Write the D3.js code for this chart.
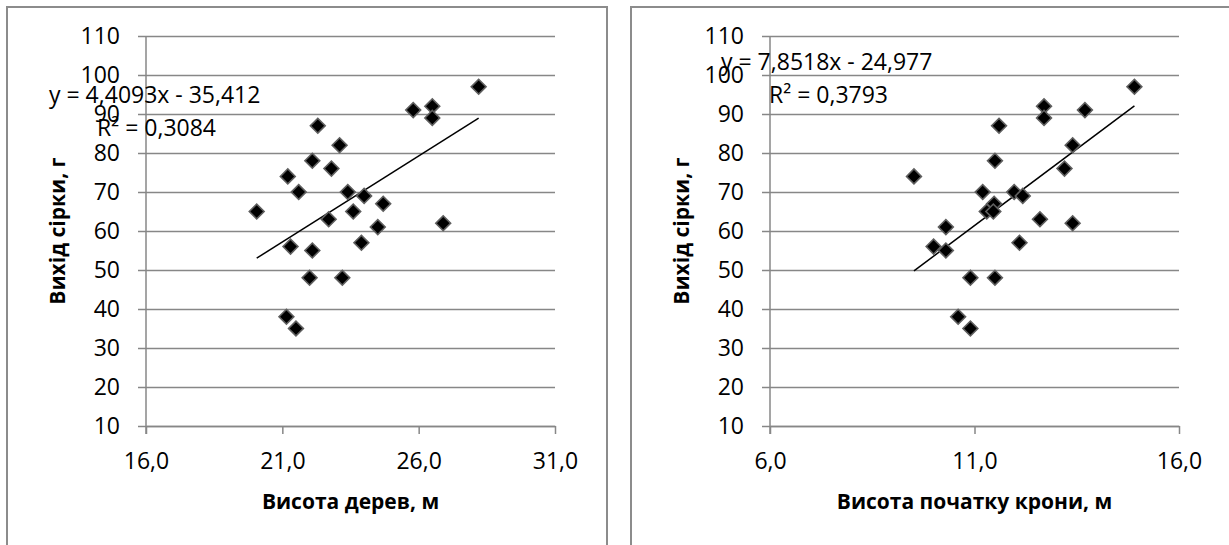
<!DOCTYPE html>
<html>
<head>
<meta charset="utf-8">
<script src="https://cdn.jsdelivr.net/npm/d3@7"></script>
<style>
  body { margin: 0; background: #fff; }
  svg text { font-family: "Open Sans", sans-serif; fill: #000; }
</style>
</head>
<body>
<div id="graph"></div>
<script>
// yield of sulphur, g (same trees on both charts)
var yieldA = [65, 74, 70, 56, 97, 91, 92, 89, 87, 82, 78, 76, 70, 69, 67, 65, 63, 61, 62, 57, 55, 48, 48, 35, 38];
// tree height, m
var treeHeight = [20.06, 21.2, 21.6, 21.3, 28.2, 25.8, 26.5, 26.5, 22.3, 23.1, 22.1, 22.8, 23.4, 24.0, 24.7, 23.6, 22.7, 24.5, 26.9, 23.9, 22.1, 22.0, 23.2, 21.5, 21.15];

// yield of sulphur, g, second chart
var yieldB = [74, 97, 92, 89, 91, 87, 82, 78, 76, 70, 70, 69, 67, 65, 65, 63, 62, 61, 57, 56, 55, 48, 48, 38, 35];
// crown base height, m
var crownHeight = [9.52, 14.91, 12.7, 12.7, 13.7, 11.6, 13.4, 11.5, 13.2, 11.2, 11.97, 12.18, 11.48, 11.3, 11.46, 12.6, 13.4, 10.3, 12.1, 10.0, 10.3, 10.9, 11.5, 10.6, 10.9];

var yTicks = [10, 20, 30, 40, 50, 60, 70, 80, 90, 100, 110];
var xTicksA = [16, 21, 26, 31];
var xTicksB = [6, 11, 16];

// trend line coefficients (slope, intercept) and R²
var trendA = [4.4093, -35.412], r2A = "0,3084";
var trendB = [7.8518, -24.977], r2B = "0,3793";

var svg = d3.select('#graph')
    .append('svg')
    .attr('width', 1229)
    .attr('height', 545);

function comma(v, digits) {
  return v.toFixed(digits).replace('.', ',');
}

function drawChart(opt) {
  // frame
  svg.append('rect')
    .attr('x', opt.frame[0]).attr('y', 7)
    .attr('width', opt.frame[1]).attr('height', 560)
    .attr('fill', 'none')
    .attr('stroke', '#8c8c8c')
    .attr('stroke-width', 2);

  var x = d3.scaleLinear().domain(opt.xDomain).range([opt.left, opt.right]);
  var y = d3.scaleLinear().domain([10, 110]).range([426, 36]);
  var w = opt.right - opt.left;

  // horizontal gridlines
  svg.append('g')
    .attr('transform', 'translate(' + opt.left + ',0)')
    .call(d3.axisLeft(y).tickValues(yTicks).tickSize(-w).tickFormat(''))
    .call(function(g) {
      g.select('.domain').remove();
      g.selectAll('line').attr('stroke', '#878787').attr('stroke-width', 1.5);
    });

  // y axis
  svg.append('g')
    .attr('transform', 'translate(' + opt.left + ',0)')
    .call(d3.axisLeft(y).tickValues(yTicks).tickSize(8).tickSizeOuter(0).tickPadding(18))
    .call(function(g) {
      g.select('.domain').attr('stroke', '#878787').attr('stroke-width', 1.5)
        .attr('d', 'M0,36V434');
      g.selectAll('line').attr('stroke', '#878787').attr('stroke-width', 1.5);
      g.selectAll('text').style('font-size', '23px').attr('fill', '#000');
    });

  // x axis
  svg.append('g')
    .attr('transform', 'translate(0,426)')
    .call(d3.axisBottom(x).tickValues(opt.xTicks).tickSize(8).tickSizeOuter(0).tickPadding(19)
      .tickFormat(function(d) { return comma(d, 1); }))
    .call(function(g) {
      g.select('.domain').attr('stroke', '#878787').attr('stroke-width', 1.5);
      g.selectAll('line').attr('stroke', '#878787').attr('stroke-width', 1.5);
      g.selectAll('text').style('font-size', '23px').attr('fill', '#000');
    });

  // trend line
  var xr = d3.extent(opt.xs);
  svg.append('line')
    .attr('x1', x(xr[0])).attr('y1', y(opt.trend[0] * xr[0] + opt.trend[1]))
    .attr('x2', x(xr[1])).attr('y2', y(opt.trend[0] * xr[1] + opt.trend[1]))
    .attr('stroke', '#000')
    .attr('stroke-width', 1.5);

  // markers
  var diamond = d3.symbol().type(d3.symbolSquare).size(110);
  svg.append('g').selectAll('path')
    .data(opt.ys)
    .enter()
    .append('path')
    .attr('d', diamond)
    .attr('transform', function(d, i) {
      return 'translate(' + x(opt.xs[i]) + ',' + y(d) + ') rotate(45)';
    })
    .attr('fill', '#000')
    .attr('stroke', '#5f5f5f')
    .attr('stroke-width', 1.6);

  // axis titles
  svg.append('text')
    .attr('x', (opt.left + opt.right) / 2).attr('y', 502)
    .attr('dy', '0.35em')
    .attr('text-anchor', 'middle')
    .style('font-size', '21px').style('font-weight', 'bold')
    .text(opt.xTitle);

  svg.append('text')
    .attr('transform', 'translate(' + (opt.left - 88) + ',231) rotate(-90)')
    .attr('dy', '0.35em')
    .attr('text-anchor', 'middle')
    .style('font-size', '21px').style('font-weight', 'bold')
    .text('Вихід сірки, г');

  // trend equation
  var sign = opt.trend[1] < 0 ? ' - ' : ' + ';
  svg.append('text')
    .attr('x', opt.eq[0]).attr('y', opt.eq[1])
    .attr('dy', '0.35em')
    .style('font-size', '23px')
    .text('y = ' + comma(opt.trend[0], 4) + 'x' + sign + comma(Math.abs(opt.trend[1]), 3));

  svg.append('text')
    .attr('x', opt.eq[2]).attr('y', opt.eq[3])
    .attr('dy', '0.35em')
    .style('font-size', '23px')
    .text('R² = ' + opt.r2);
}

drawChart({
  frame: [7, 600],
  left: 146, right: 555,
  xDomain: [16, 31], xTicks: xTicksA,
  xs: treeHeight, ys: yieldA,
  trend: trendA, r2: r2A,
  eq: [49, 95, 97, 128],
  xTitle: 'Висота дерев, м'
});

drawChart({
  frame: [631, 640],
  left: 770, right: 1179,
  xDomain: [6, 16], xTicks: xTicksB,
  xs: crownHeight, ys: yieldB,
  trend: trendB, r2: r2B,
  eq: [721, 62, 769, 95],
  xTitle: 'Висота початку крони, м'
});
</script>
</body>
</html>
